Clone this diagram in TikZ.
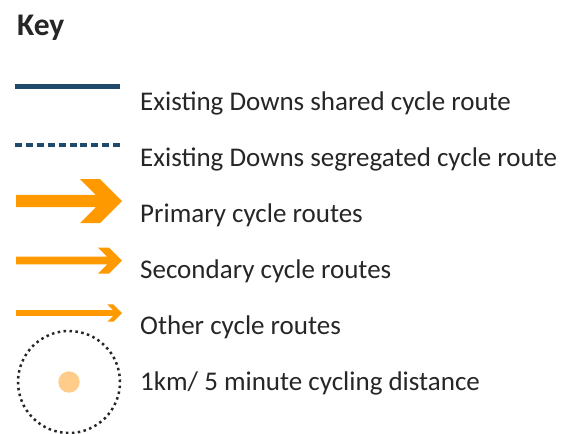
\documentclass[tikz,border=0pt]{standalone}
\usepackage{fontspec}
\setmainfont{Carlito}
\usetikzlibrary{calc}

\definecolor{downsblue}{HTML}{1F4A6C}
\definecolor{cycleorange}{HTML}{FF9900}
\definecolor{spotorange}{HTML}{FFCC8A}
\definecolor{keytext}{HTML}{262626}

\begin{document}
\begin{tikzpicture}[x=1pt, y=-1pt,
	keylabel/.style={anchor=base west, inner sep=0pt, text=keytext, font=\fontsize{27}{32}\selectfont},
	sharedline/.style={draw=downsblue, line width=5pt},
	segline/.style={draw=downsblue, line width=4.5pt, dash pattern=on 7pt off 3.9pt}]
	\useasboundingbox (0,0) rectangle (566,434);
	\node[anchor=base west, inner sep=0pt, text=keytext, font=\bfseries\fontsize{31.5}{36}\selectfont] (key) at (17,35) {Key};
	\coordinate (S1) at (15,86.5);
	\coordinate (S2) at (120,86.5);
	\coordinate (G1) at (15,145);
	\coordinate (G2) at (120,145);
	\draw[sharedline] (S1) -- (S2);
	\draw[segline] (G1) -- (G2);
	\foreach \yc/\ts/\hs/\wd in {201/6.2/22/20, 260.5/3.8/13/11, 313/2.8/8.7/6} {
		\coordinate (tip) at (122,\yc);
		\fill[cycleorange] (16,{\yc-\ts}) -- ({122-\wd-\ts},{\yc-\ts}) -- ({122-\hs-\wd},{\yc-\hs})
			-- ({122-\hs},{\yc-\hs}) -- (tip) -- ({122-\hs},{\yc+\hs}) -- ({122-\hs-\wd},{\yc+\hs})
			-- ({122-\wd-\ts},{\yc+\ts}) -- (16,{\yc+\ts}) -- cycle;
	}
	\coordinate (C) at (69,382);
	\draw[keytext, line width=2.5pt, dash pattern=on 2.5pt off 3.43pt] (C) circle (51pt);
	\fill[spotorange] (C) circle (10.7pt);
	\node[keylabel] (shared) at (140,110) {Existing Downs shared cycle route};
	\node[keylabel] (segregated) at (140,166) {Existing Downs segregated cycle route};
	\node[keylabel] (primary) at (140,222) {Primary cycle routes};
	\node[keylabel] (secondary) at (140,278) {Secondary cycle routes};
	\node[keylabel] (other) at (140,334) {Other cycle routes};
	\node[keylabel] (distance) at (140,390) {1km/ 5 minute cycling distance};
\end{tikzpicture}
\end{document}
